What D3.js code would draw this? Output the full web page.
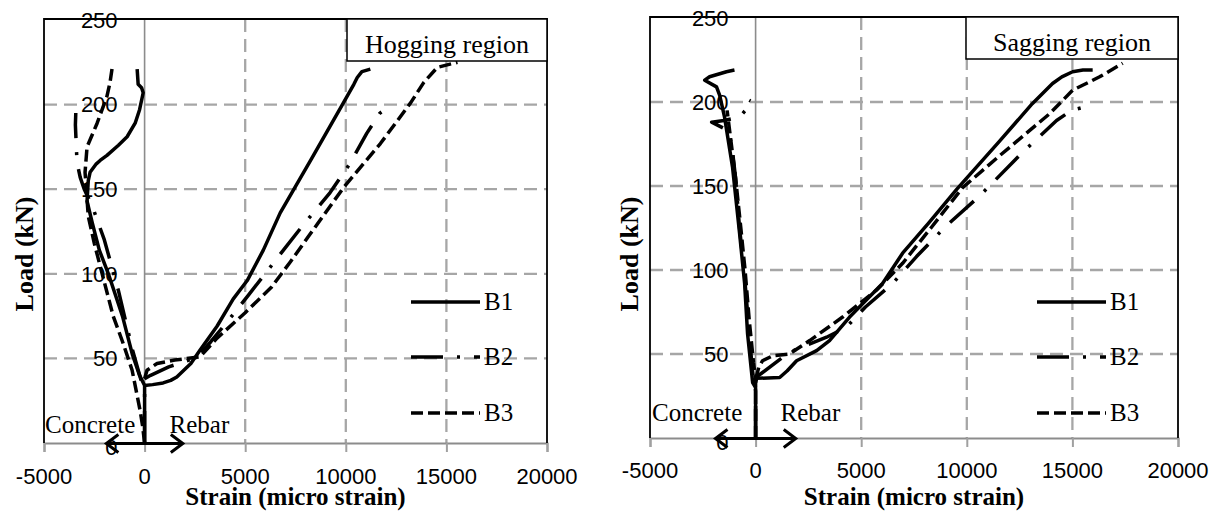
<!DOCTYPE html>
<html>
<head>
<meta charset="utf-8">
<script src="https://cdn.jsdelivr.net/npm/d3@7/dist/d3.min.js"></script>
<style>
  html, body { margin: 0; padding: 0; background: #fff; }
  svg { display: block; }
</style>
</head>
<body>
<svg id="chart" width="1222" height="513"></svg>
<script>
// ---------------- DATA ----------------
const xTicks = [-5000, 0, 5000, 10000, 15000, 20000];
const yTicks = [0, 50, 100, 150, 200, 250];
const seriesNames = ["B1", "B2", "B3"];
const panelTitles = ["Hogging region", "Sagging region"];

// Hogging region: [strain, load]
const hogB1Concrete = [[0,0],[0,34],[-250,40],[-600,52],[-1100,75],[-1800,100],[-2250,114],[-2600,130],[-2860,143],[-2800,155],[-2710,160],[-2400,165],[-2210,167],[-1870,170],[-1300,176],[-870,181],[-470,189],[-250,197],[-70,207],[-150,210],[-320,212],[-370,221]];
const hogB1Rebar = [[0,34],[400,34.5],[920,35.5],[1300,37],[1600,39],[2300,47],[2760,55],[3600,69],[4400,85],[5100,96],[5900,114],[6740,136],[8300,168],[9880,201],[10400,212],[10570,216],[10800,219.5],[11220,221]];
const hogB2Concrete = [[0,0],[0,30],[-150,36],[-600,55],[-1300,90],[-2000,120],[-2600,140],[-3000,150],[-3200,157],[-3360,166],[-3400,177],[-3440,188],[-3420,195]];
const hogB2Rebar = [[0,38],[300,40],[1200,45],[2200,49],[2700,52],[3300,60],[4200,73],[5200,88],[5990,100],[6900,114],[7890,129],[9220,148],[10200,165],[11040,183],[11700,195],[12300,200]];
const hogB3Concrete = [[0,0],[-100,10],[-220,19],[-620,43],[-1100,60],[-1560,75],[-2110,100],[-2500,118],[-2800,134],[-2960,160],[-2860,175],[-2360,189],[-1870,205],[-1720,213],[-1620,221]];
const hogB3Rebar = [[0,38],[120,43],[620,47],[1500,49],[2760,51],[3600,62],[5000,77],[6300,92],[7240,107],[8500,128],[9890,151],[11720,177],[13220,201],[13870,213],[14550,222],[15550,225]];

// Sagging region: [strain, load]
const sagB1Concrete = [[0,0],[0,30],[-140,33],[-380,62],[-520,92],[-760,122],[-1090,161],[-1470,191],[-1700,204],[-1850,209],[-2410,213],[-2180,215],[-1380,218],[-1000,219]];
const sagB1Rebar = [[0,33],[50,35.5],[1140,36],[1500,40],[1940,46],[2890,52],[3500,58],[4450,72],[6010,92],[6960,110],[8200,128],[9520,148],[11500,176],[13100,199],[14060,211],[14500,215],[15010,218],[15500,219],[15960,219]];
const sagB2Concrete = [[0,0],[0,28],[-150,40],[-350,70],[-550,100],[-760,125],[-850,139],[-950,155],[-1050,166],[-1140,175],[-1300,183],[-2080,188],[-1500,189],[-760,191],[-280,198],[-150,200],[-300,201]];
const sagB2Rebar = [[0,36],[330,39],[1600,51],[3360,60],[4300,66],[5200,78],[6490,92],[7620,108],[9000,126],[10600,144],[12640,170],[14250,189],[14960,195],[15580,197],[15750,193]];
const sagB3Concrete = [[0,0],[0,35],[-100,45],[-300,70],[-500,100],[-700,125],[-950,155],[-1200,180],[-1350,195]];
const sagB3Rebar = [[0,35],[150,42],[330,46],[820,49],[1600,50],[2560,58],[4120,72],[5720,88],[6960,104],[8300,125],[9800,149],[11550,168],[13920,193],[15010,207],[16290,215],[17380,223]];

// ---------------- STYLE / LAYOUT ----------------
const styles = {
  B1: { dash: null },
  B2: { dash: "32,14,3,14" },
  B3: { dash: "12,5" }
};
const panels = [
  { title: panelTitles[0], x0: 44, x1: 547, y0: 443, y1: 20,
    series: { B1: [hogB1Concrete, hogB1Rebar], B2: [hogB2Concrete, hogB2Rebar], B3: [hogB3Concrete, hogB3Rebar] },
    box: { x: 347, w: 200 }, legendX: 411, tickY: 484, yTitleX: 24, concreteX: 45, textBase: 433 },
  { title: panelTitles[1], x0: 650, x1: 1178, y0: 438, y1: 18,
    series: { B1: [sagB1Concrete, sagB1Rebar], B2: [sagB2Concrete, sagB2Rebar], B3: [sagB3Concrete, sagB3Rebar] },
    box: { x: 966, w: 212 }, legendX: 1037, tickY: 478, yTitleX: 629, concreteX: 652, textBase: 421 }
];

const svg = d3.select("#chart");
const sansFont = "'Liberation Sans', Arial, sans-serif";
const serifFont = "'Liberation Serif', 'Times New Roman', serif";

panels.forEach(p => {
  const x = d3.scaleLinear().domain([-5000, 20000]).range([p.x0, p.x1]);
  const y = d3.scaleLinear().domain([0, 250]).range([p.y0, p.y1]);
  const g = svg.append("g");
  const top = p.y1 - 1;

  // grid (dashed gray)
  g.selectAll(".vg").data(xTicks.filter(t => t > 0 && t < 20000)).enter().append("line")
    .attr("x1", d => x(d)).attr("x2", d => x(d)).attr("y1", top).attr("y2", p.y0)
    .attr("stroke", "#a6a6a6").attr("stroke-width", 2.3).attr("stroke-dasharray", "13,7");
  g.selectAll(".hg").data(yTicks.filter(t => t > 0 && t < 250)).enter().append("line")
    .attr("x1", p.x0).attr("x2", p.x1).attr("y1", d => y(d)).attr("y2", d => y(d))
    .attr("stroke", "#a6a6a6").attr("stroke-width", 2.3).attr("stroke-dasharray", "13,7");

  // vertical axis at x = 0 (solid gray)
  g.append("line").attr("x1", x(0)).attr("x2", x(0)).attr("y1", top).attr("y2", p.y0)
    .attr("stroke", "#8c8c8c").attr("stroke-width", 1.6);

  // x axis (bottom, gray) with ticks
  const xAxis = d3.axisBottom(x).tickValues(xTicks).tickSize(9).tickFormat("");
  const ax = g.append("g").attr("transform", `translate(0,${p.y0})`).call(xAxis);
  ax.select(".domain").attr("stroke", "#8c8c8c").attr("stroke-width", 2);
  ax.selectAll(".tick line").attr("stroke", "#a0a0a0").attr("stroke-width", 2);

  // x tick labels
  g.selectAll(".xl").data(xTicks).enter().append("text")
    .attr("x", d => x(d)).attr("y", p.tickY).attr("text-anchor", "middle")
    .style("font-family", sansFont).style("font-size", "22px").text(d => d);

  // y tick labels (left of the x=0 axis)
  g.selectAll(".yl").data(yTicks).enter().append("text")
    .attr("x", x(0) - 27).attr("y", d => y(d) + (d === 0 ? 4 : 0)).attr("dy", "0.35em")
    .attr("text-anchor", "end")
    .style("font-family", sansFont).style("font-size", "22px").text(d => d);

  // border (top, left, right) black
  g.append("path")
    .attr("d", `M${p.x0},${p.y0}V${top}H${p.x1}V${p.y0}`)
    .attr("fill", "none").attr("stroke", "#000").attr("stroke-width", 1.8);

  // series
  const line = d3.line().x(d => x(d[0])).y(d => y(d[1])).curve(d3.curveLinear);
  seriesNames.forEach(name => {
    p.series[name].forEach(arr => {
      g.append("path").datum(arr).attr("d", line)
        .attr("fill", "none").attr("stroke", "#000").attr("stroke-width", 3.5)
        .attr("stroke-linejoin", "round")
        .attr("stroke-dasharray", styles[name].dash);
    });
  });

  // arrow
  const ay = p.y0 + 0.5;
  const aL = x(-1900), aR = x(1900);
  g.append("line").attr("x1", aL).attr("x2", aR).attr("y1", ay).attr("y2", ay)
    .attr("stroke", "#000").attr("stroke-width", 3);
  g.append("path").attr("d", `M${aL + 12},${ay - 9}L${aL},${ay}L${aL + 12},${ay + 9}`)
    .attr("fill", "none").attr("stroke", "#000").attr("stroke-width", 3);
  g.append("path").attr("d", `M${aR - 12},${ay - 9}L${aR},${ay}L${aR - 12},${ay + 9}`)
    .attr("fill", "none").attr("stroke", "#000").attr("stroke-width", 3);

  g.append("text").attr("x", p.concreteX).attr("y", p.textBase)
    .style("font-family", serifFont).style("font-size", "25px").text("Concrete");
  g.append("text").attr("x", x(0) + 25).attr("y", p.textBase)
    .style("font-family", serifFont).style("font-size", "25px").text("Rebar");

  // legend
  const ly = [302, 357, 413];
  seriesNames.forEach((name, i) => {
    g.append("line").attr("x1", p.legendX).attr("x2", p.legendX + 69)
      .attr("y1", ly[i]).attr("y2", ly[i])
      .attr("stroke", "#000").attr("stroke-width", 3.5)
      .attr("stroke-dasharray", styles[name].dash);
    g.append("text").attr("x", p.legendX + 73).attr("y", ly[i] + 8)
      .style("font-family", serifFont).style("font-size", "25px").text(name);
  });

  // region box
  g.append("rect").attr("x", p.box.x).attr("y", top).attr("width", p.box.w).attr("height", 42)
    .attr("fill", "#fff").attr("stroke", "#000").attr("stroke-width", 1.5);
  g.append("text").attr("x", p.box.x + p.box.w / 2).attr("y", top + 34)
    .attr("text-anchor", "middle")
    .style("font-family", serifFont).style("font-size", "26px").text(p.title);

  // axis titles
  g.append("text").attr("x", (p.x0 + p.x1) / 2).attr("y", 505).attr("text-anchor", "middle")
    .style("font-family", serifFont).style("font-size", "25px").style("font-weight", "bold")
    .text("Strain (micro strain)");
  g.append("text").attr("transform", `translate(${p.yTitleX},254) rotate(-90)`)
    .attr("text-anchor", "middle").attr("dy", "0.35em")
    .style("font-family", serifFont).style("font-size", "26px").style("font-weight", "bold")
    .text("Load (kN)");
});
</script>
</body>
</html>
